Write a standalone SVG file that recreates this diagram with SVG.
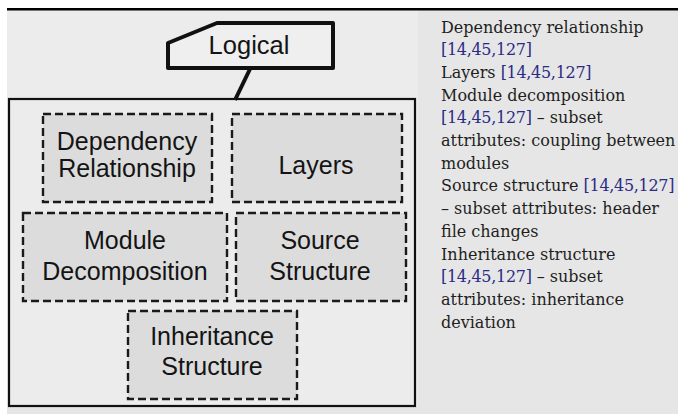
<svg xmlns="http://www.w3.org/2000/svg" width="678" height="414" viewBox="0 0 678 414">
<style>
.lbl{font-family:"Liberation Sans",Arial,sans-serif;font-size:25px;fill:#141414;text-anchor:middle}
.box{fill:#dcdcdc;stroke:#1a1a1a;stroke-width:2.4;stroke-dasharray:8 4}
.txt{font-family:"DejaVu Serif","Liberation Serif",serif;font-size:16px;fill:#1e1e1e}
.ref{fill:#2b2b86;letter-spacing:-0.3px}
</style>
<rect x="0" y="0" width="678" height="414" fill="#ffffff"/>
<rect x="7" y="10" width="671" height="404" fill="#e6e6e6"/>
<rect x="7" y="10" width="411" height="397" fill="#ececec"/>
<rect x="7" y="8" width="671" height="2.5" fill="#000"/>
<g id="container">
<rect x="9" y="99" width="406" height="307" fill="none" stroke="#111" stroke-width="2.2"/>
</g>
<g id="connectors">
<line x1="250" y1="69" x2="235" y2="100" stroke="#111" stroke-width="4"/>
</g>
<g id="logical">
<path d="M217,23 L333,23 L333,68 L168,68 L168,43 Z" fill="#efefef" stroke="#111" stroke-width="4" stroke-linejoin="round"/>
<text class="lbl" x="249" y="54" style="font-size:25.5px">Logical</text>
</g>
<g id="dependency">
<rect class="box" x="43" y="114" width="169" height="88"/>
<text class="lbl" x="127" y="150">Dependency</text>
<text class="lbl" x="127" y="177">Relationship</text>
</g>
<g id="layers">
<rect class="box" x="232" y="114" width="170" height="88"/>
<text class="lbl" x="316" y="174">Layers</text>
</g>
<g id="module">
<rect class="box" x="23" y="213" width="204" height="88"/>
<text class="lbl" x="125" y="249">Module</text>
<text class="lbl" x="125" y="280">Decomposition</text>
</g>
<g id="source">
<rect class="box" x="236" y="213" width="170" height="88"/>
<text class="lbl" x="320" y="249">Source</text>
<text class="lbl" x="320" y="280">Structure</text>
</g>
<g id="inheritance">
<rect class="box" x="128" y="311" width="169" height="88"/>
<text class="lbl" x="212" y="345">Inheritance</text>
<text class="lbl" x="212" y="375">Structure</text>
</g>
<g id="description" class="txt">
<text x="441" y="32.5">Dependency relationship</text>
<text x="441" y="55.2" class="ref">[14,45,127]</text>
<text x="441" y="77.9">Layers <tspan class="ref">[14,45,127]</tspan></text>
<text x="441" y="100.6">Module decomposition</text>
<text x="441" y="123.3"><tspan class="ref">[14,45,127]</tspan> – subset</text>
<text x="441" y="146">attributes: coupling between</text>
<text x="441" y="168.7">modules</text>
<text x="441" y="191.4">Source structure <tspan class="ref">[14,45,127]</tspan></text>
<text x="441" y="214.1">– subset attributes: header</text>
<text x="441" y="236.8">file changes</text>
<text x="441" y="259.5">Inheritance structure</text>
<text x="441" y="282.2"><tspan class="ref">[14,45,127]</tspan> – subset</text>
<text x="441" y="304.9">attributes: inheritance</text>
<text x="441" y="327.6">deviation</text>
</g>
</svg>
